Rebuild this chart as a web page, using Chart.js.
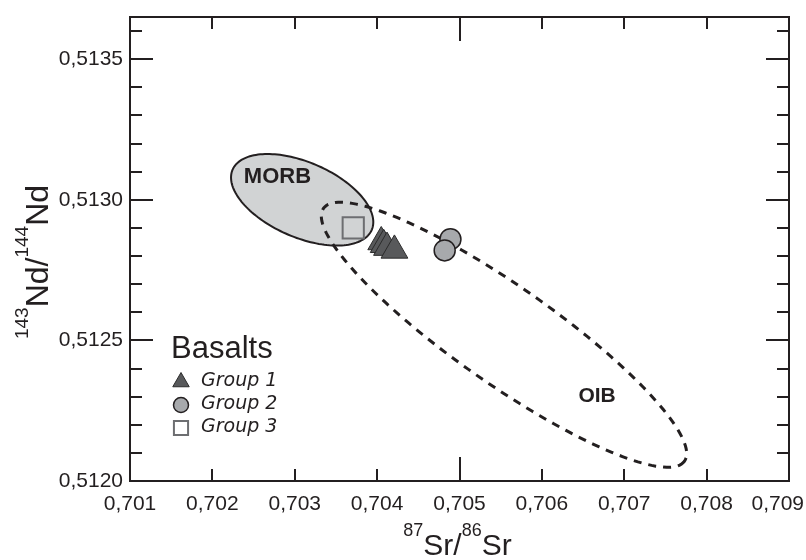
<!DOCTYPE html>
<html>
<head>
<meta charset="utf-8">
<script src="https://cdn.jsdelivr.net/npm/chart.js@4/dist/chart.umd.min.js"></script>
<style>
  html, body { margin: 0; padding: 0; background: #fff; }
</style>
</head>
<body>
<canvas id="srNdChart" width="806" height="560"></canvas>
<script>
// Sr-Nd isotope plot, basalts vs MORB / OIB fields

const group1Sr = [0.70405, 0.70408, 0.70412, 0.70421];
const group1Nd = [0.51285, 0.51284, 0.51283, 0.51282];
const group2Sr = [0.70489, 0.70482];
const group2Nd = [0.51286, 0.51282];
const group3Sr = [0.70371];
const group3Nd = [0.51290];

const xTicks = [0.701, 0.702, 0.703, 0.704, 0.705, 0.706, 0.707, 0.708, 0.709];
const xLongTicks = [0.705];
const yTicks = [0.5120, 0.5125, 0.5130, 0.5135];

// fields: centre, end of long semi-axis, end of short semi-axis  [Sr, Nd]
const morbField = [[0.70309, 0.51300], [0.70393, 0.51289], [0.70289, 0.51288]];
const oibField = [[0.70554, 0.51252], [0.70773, 0.51207], [0.70519, 0.51238]];
const morbLabelAt = [0.70279, 0.51308];
const oibLabelAt = [0.70667, 0.51230];

const INK = '#231f20';
const FONT = '"Liberation Sans", Arial, sans-serif';

function toPoints(xs, ys) {
    return xs.map((x, i) => ({ x: x, y: ys[i] }));
}

function comma(v, d) {
    return v.toFixed(d).replace('.', ',');
}

function fieldPath(ctx, sx, sy, field) {
    const cx = sx.getPixelForValue(field[0][0]);
    const cy = sy.getPixelForValue(field[0][1]);
    const ax = sx.getPixelForValue(field[1][0]) - cx;
    const ay = sy.getPixelForValue(field[1][1]) - cy;
    const bx = sx.getPixelForValue(field[2][0]) - cx;
    const by = sy.getPixelForValue(field[2][1]) - cy;
    ctx.beginPath();
    for (let i = 0; i <= 160; i++) {
        const t = i / 160 * Math.PI * 2;
        const px = cx + ax * Math.cos(t) + bx * Math.sin(t);
        const py = cy + ay * Math.cos(t) + by * Math.sin(t);
        if (i === 0) ctx.moveTo(px, py); else ctx.lineTo(px, py);
    }
    ctx.closePath();
}

// text with superscript parts, centred on x
function drawSupText(ctx, parts, x, y, mainSize, supSize, rise) {
    const mainFont = mainSize + 'px ' + FONT;
    const supFont = supSize + 'px ' + FONT;
    let w = 0;
    parts.forEach(p => {
        ctx.font = p[1] ? supFont : mainFont;
        w += ctx.measureText(p[0]).width;
    });
    let cx = x - w / 2;
    ctx.textAlign = 'left';
    ctx.textBaseline = 'alphabetic';
    parts.forEach(p => {
        ctx.font = p[1] ? supFont : mainFont;
        ctx.fillText(p[0], cx, p[1] ? y - rise : y);
        cx += ctx.measureText(p[0]).width;
    });
}

const fieldsPlugin = {
    id: 'fields',
    beforeDatasetsDraw(chart) {
        const ctx = chart.ctx;
        const sx = chart.scales.x, sy = chart.scales.y;
        ctx.save();

        fieldPath(ctx, sx, sy, morbField);
        ctx.fillStyle = '#d1d3d4';
        ctx.fill();
        ctx.lineWidth = 2;
        ctx.strokeStyle = INK;
        ctx.stroke();

        fieldPath(ctx, sx, sy, oibField);
        ctx.setLineDash([8, 7]);
        ctx.lineWidth = 3;
        ctx.strokeStyle = INK;
        ctx.stroke();
        ctx.setLineDash([]);

        ctx.fillStyle = INK;
        ctx.font = 'bold 22px ' + FONT;
        ctx.textAlign = 'center';
        ctx.textBaseline = 'middle';
        ctx.fillText('MORB', sx.getPixelForValue(morbLabelAt[0]), sy.getPixelForValue(morbLabelAt[1]));
        ctx.font = 'bold 21px ' + FONT;
        ctx.fillText('OIB', sx.getPixelForValue(oibLabelAt[0]), sy.getPixelForValue(oibLabelAt[1]));
        ctx.restore();
    }
};

const framePlugin = {
    id: 'frame',
    afterDraw(chart) {
        const ctx = chart.ctx;
        const a = chart.chartArea;
        const sx = chart.scales.x, sy = chart.scales.y;
        ctx.save();
        ctx.strokeStyle = INK;
        ctx.lineWidth = 2;
        ctx.strokeRect(a.left, a.top, a.right - a.left, a.bottom - a.top);

        ctx.beginPath();
        // Nd ticks, minor every 0.0001, inward on both sides
        for (let v = 0.5121; v < sy.max; v += 0.0001) {
            const y = Math.round(sy.getPixelForValue(v));
            const major = yTicks.some(t => Math.abs(t - v) < 1e-7);
            const len = major ? 23 : 12;
            ctx.moveTo(a.left, y); ctx.lineTo(a.left + len, y);
            ctx.moveTo(a.right, y); ctx.lineTo(a.right - len, y);
        }
        // Sr ticks, inward top and bottom
        xTicks.slice(1, -1).forEach(v => {
            const x = Math.round(sx.getPixelForValue(v));
            const len = xLongTicks.includes(v) ? 24 : 12;
            ctx.moveTo(x, a.bottom); ctx.lineTo(x, a.bottom - len);
            ctx.moveTo(x, a.top); ctx.lineTo(x, a.top + len);
        });
        ctx.stroke();

        // Sr tick labels, last one kept inside the canvas
        ctx.fillStyle = INK;
        ctx.font = '21px ' + FONT;
        ctx.textBaseline = 'middle';
        xTicks.forEach((v, i) => {
            const x = sx.getPixelForValue(v);
            const label = comma(v, 3);
            if (i === xTicks.length - 1) {
                ctx.textAlign = 'right';
                ctx.fillText(label, chart.width - 2, a.bottom + 23);
            } else {
                ctx.textAlign = 'center';
                ctx.fillText(label, x, a.bottom + 23);
            }
        });

        // axis titles
        drawSupText(ctx, [['87', true], ['Sr/', false], ['86', true], ['Sr', false]],
            (a.left + a.right) / 2 - 2, 555, 30, 18, 19);
        ctx.save();
        ctx.translate(48, 262);
        ctx.rotate(-Math.PI / 2);
        drawSupText(ctx, [['143', true], ['Nd/', false], ['144', true], ['Nd', false]], 0, 0, 32, 19, 20);
        ctx.restore();

        // legend
        ctx.fillStyle = INK;
        ctx.textAlign = 'left';
        ctx.textBaseline = 'alphabetic';
        ctx.font = '31px ' + FONT;
        ctx.fillText('Basalts', 171, 358);
        const rows = [382, 405, 428];
        const sizes = [9.5, 7.5, 10];
        chart.data.datasets.forEach((ds, i) => {
            ctx.fillStyle = ds.backgroundColor;
            ctx.strokeStyle = ds.borderColor;
            ctx.lineWidth = ds.borderWidth;
            if (Chart.helpers && Chart.helpers.drawPoint) {
                Chart.helpers.drawPoint(ctx, {
                    pointStyle: ds.pointStyle, radius: sizes[i],
                    borderWidth: ds.borderWidth, rotation: 0
                }, 181, rows[i]);
            }
            ctx.fillStyle = INK;
            ctx.font = 'italic 19px "DejaVu Sans", Verdana, sans-serif';
            ctx.textBaseline = 'middle';
            ctx.fillText(ds.label, 201, rows[i] - 1);
        });
        ctx.restore();
    }
};

document.addEventListener('DOMContentLoaded', () => {
    const ctx = document.getElementById('srNdChart').getContext('2d');

    new Chart(ctx, {
        type: 'scatter',
        data: {
            datasets: [
                {
                    label: 'Group 1',
                    data: toPoints(group1Sr, group1Nd),
                    pointStyle: 'triangle',
                    pointRadius: 15.5,
                    backgroundColor: '#58595b',
                    borderColor: '#2b2b2b',
                    borderWidth: 1
                },
                {
                    label: 'Group 2',
                    data: toPoints(group2Sr, group2Nd),
                    pointStyle: 'circle',
                    pointRadius: 10.5,
                    backgroundColor: '#a7a9ac',
                    borderColor: INK,
                    borderWidth: 1.5
                },
                {
                    label: 'Group 3',
                    data: toPoints(group3Sr, group3Nd),
                    pointStyle: 'rect',
                    pointRadius: 15,
                    backgroundColor: 'rgba(255,255,255,0)',
                    borderColor: '#6d6e71',
                    borderWidth: 2
                }
            ]
        },
        options: {
            responsive: false,
            animation: false,
            devicePixelRatio: 1,
            layout: { padding: { top: 9, right: 3, left: 0, bottom: 0 } },
            plugins: {
                legend: { display: false },
                tooltip: { enabled: false }
            },
            scales: {
                x: {
                    type: 'linear',
                    min: 0.701,
                    max: 0.709,
                    grid: { display: false },
                    border: { display: false },
                    ticks: { display: false },
                    afterBuildTicks: s => { s.ticks = xTicks.map(v => ({ value: v })); },
                    afterFit: s => { s.height = 79; s.paddingLeft = 0; s.paddingRight = 0; }
                },
                y: {
                    type: 'linear',
                    min: 0.5120,
                    max: 0.51365,
                    grid: { display: false, drawTicks: false },
                    border: { display: false },
                    ticks: {
                        padding: 7,
                        color: INK,
                        font: { family: FONT, size: 21 },
                        callback: v => comma(v, 4)
                    },
                    afterBuildTicks: s => { s.ticks = yTicks.map(v => ({ value: v })); },
                    afterFit: s => { s.width = 130; s.paddingTop = 0; s.paddingBottom = 0; }
                }
            }
        },
        plugins: [fieldsPlugin, framePlugin]
    });
});
</script>
</body>
</html>
